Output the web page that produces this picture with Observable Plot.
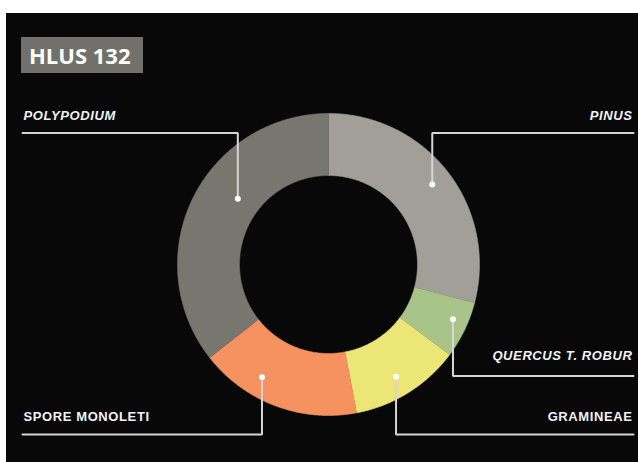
<!DOCTYPE html>
<html>
<head>
<meta charset="utf-8">
<script src="https://cdn.jsdelivr.net/npm/d3@7"></script>
<script src="https://cdn.jsdelivr.net/npm/@observablehq/plot@0.6"></script>
<style>
  html, body { margin: 0; padding: 0; background: #ffffff; }
  #frame { position: absolute; left: 6px; top: 13px; width: 632px; height: 449px; background: #080808; overflow: hidden; }
  #title { position: absolute; left: 15px; top: 24px; width: 122px; height: 36px; background: #71706a;
           color: #ffffff; font-family: "Open Sans", sans-serif; font-weight: 700; font-size: 22px;
           line-height: 36px; box-sizing: border-box; padding-left: 8px; }
  #chart svg text { letter-spacing: 0.6px; }
</style>
</head>
<body>
<div id="frame"><div id="chart"></div><div id="title">HLUS 132</div></div>
<script>
// ---- data ----
const titleText = "HLUS 132";
const categories = ["PINUS", "QUERCUS T. ROBUR", "GRAMINEAE", "SPORE MONOLETI", "POLYPODIUM"];
const values = [29.1, 6.1, 11.8, 17.4, 35.6];
const italicLabels = ["PINUS", "QUERCUS T. ROBUR", "POLYPODIUM"];
const palette = ["#a29f99", "#a9c489", "#ece677", "#f5925f", "#77766f"];

// ---- layout (styles / positions, not data) ----
const W = 632, H = 449;
const cx = 322, cy = 251, rOuter = 151, rInner = 89;
const labelLayout = {
  "PINUS":            {side: "right", lineY: 119.5, textY: 102.5, da: 0,  dr: 3},
  "QUERCUS T. ROBUR": {side: "right", lineY: 362.5, textY: 342.5, da: -2, dr: 8},
  "GRAMINEAE":        {side: "right", lineY: 421,   textY: 403.5, da: 1,  dr: 3},
  "SPORE MONOLETI":   {side: "left",  lineY: 421,   textY: 403.5, da: 10, dr: 3},
  "POLYPODIUM":       {side: "left",  lineY: 119.5, textY: 102.5, da: 10, dr: -16}
};
const xLeft = 16, xRight = 627, textLeft = 17, textRight = 626;

// ---- geometry from values ----
const total = d3.sum(values);
const toRad = (deg) => deg * Math.PI / 180;
const px = (a, r) => cx + r * Math.sin(toRad(a));
const py = (a, r) => cy - r * Math.cos(toRad(a));

let acc = 0;
const slices = categories.map((name, i) => {
  const a0 = acc / total * 360;
  acc += values[i];
  const a1 = acc / total * 360;
  return {name, a0, a1, mid: (a0 + a1) / 2};
});

const polyPts = [];
for (const s of slices) {
  const n = Math.max(2, Math.ceil((s.a1 - s.a0) / 0.5));
  for (let k = 0; k <= n; k++) {
    const a = s.a0 + (s.a1 - s.a0) * k / n;
    polyPts.push({name: s.name, x: px(a, rOuter), y: py(a, rOuter)});
  }
  for (let k = n; k >= 0; k--) {
    const a = s.a0 + (s.a1 - s.a0) * k / n;
    polyPts.push({name: s.name, x: px(a, rInner), y: py(a, rInner)});
  }
}

const dots = [], leaders = [], texts = [];
for (const s of slices) {
  const L = labelLayout[s.name];
  const a = s.mid + L.da, r = (rOuter + rInner) / 2 + 8 + L.dr;
  const dx = px(a, r), dy = py(a, r);
  dots.push({name: s.name, x: dx, y: dy});
  const endX = L.side === "left" ? xLeft : xRight;
  leaders.push({name: s.name, x: dx, y: dy});
  leaders.push({name: s.name, x: dx, y: L.lineY});
  leaders.push({name: s.name, x: endX, y: L.lineY});
  texts.push({name: s.name, x: L.side === "left" ? textLeft : textRight, y: L.textY,
              anchor: L.side === "left" ? "start" : "end"});
}

const textMark = (subset, anchor, style) => Plot.text(subset, {
  x: "x", y: "y", text: "name", textAnchor: anchor, fill: "#f2f2f2",
  fontWeight: "bold", fontStyle: style, fontSize: 13, fontFamily: "Liberation Sans, Arial, sans-serif"
});
const sel = (anchor, italic) => texts.filter(t => t.anchor === anchor && italicLabels.includes(t.name) === italic);

const chart = Plot.plot({
  width: W, height: H,
  margin: 0,
  style: {background: "transparent"},
  x: {domain: [0, W], range: [0, W], axis: null},
  y: {domain: [0, H], range: [0, H], axis: null},
  color: {domain: categories, range: palette},
  marks: [
    Plot.line(polyPts, {x: "x", y: "y", z: "name", fill: "name", stroke: "name", strokeWidth: 0.6, curve: "linear"}),
    Plot.line(leaders, {x: "x", y: "y", z: "name", stroke: "#d6d6d6", strokeWidth: 2, strokeLinejoin: "miter"}),
    Plot.dot(dots, {x: "x", y: "y", r: 3, fill: "#ffffff", stroke: "none"}),
    textMark(sel("start", true), "start", "italic"),
    textMark(sel("start", false), "start", "normal"),
    textMark(sel("end", true), "end", "italic"),
    textMark(sel("end", false), "end", "normal")
  ]
});
document.getElementById("chart").appendChild(chart);
document.getElementById("title").textContent = titleText;
</script>
</body>
</html>
